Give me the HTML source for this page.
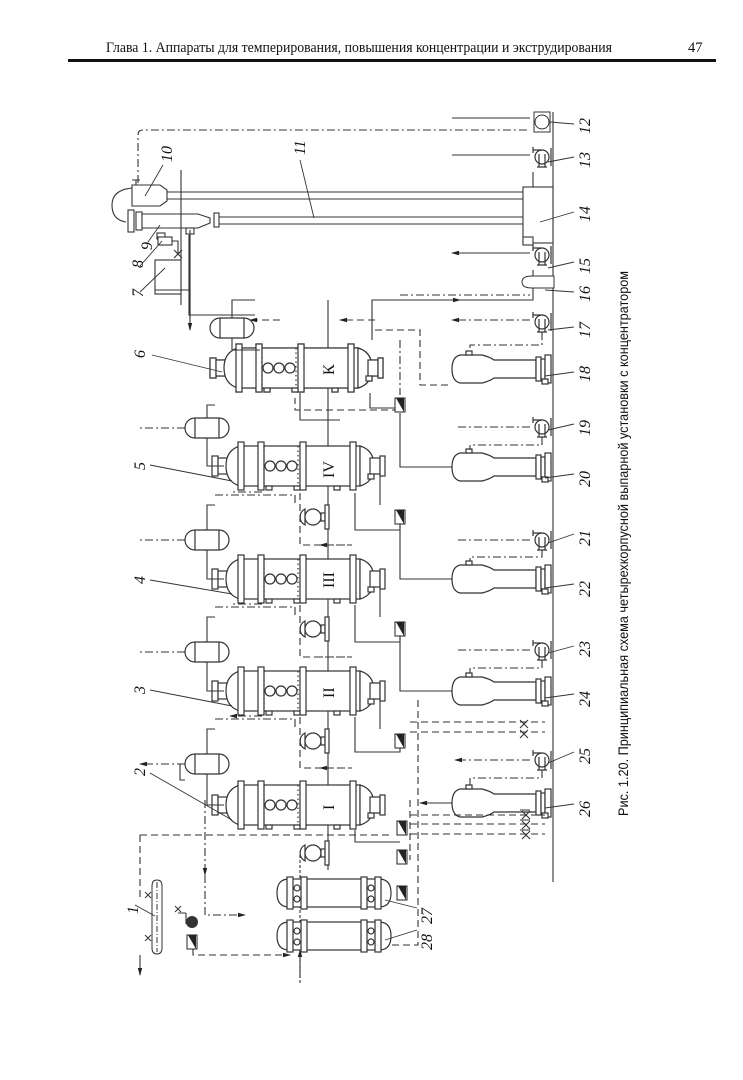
<!DOCTYPE html>
<html><head><meta charset="utf-8"><style>
html,body{margin:0;padding:0;background:#fff;}
svg{display:block}
</style></head><body>
<svg width="743" height="1080" viewBox="0 0 743 1080" xmlns="http://www.w3.org/2000/svg" font-family="Liberation Serif, serif">
<defs>
<marker id="ar" markerWidth="8" markerHeight="6" refX="7" refY="3" orient="auto" markerUnits="userSpaceOnUse"><path d="M0,0.8 L8,3 L0,5.2z" fill="#222"/></marker>
<g id="evap" fill="#fff" stroke="#333" stroke-width="1.2">
 <rect x="0" y="-10" width="6" height="20"/><rect x="6" y="-8" width="10" height="16"/>
 <path d="M28,-20 Q14,-16 14,0 Q14,16 28,20z"/>
 <rect x="28" y="-20" width="120" height="40"/>
 <path d="M148,-20 Q162,-16 162,0 Q162,16 148,20z"/>
 <rect x="158" y="-8" width="10" height="16"/><rect x="168" y="-10" width="5" height="20"/>
 <rect x="26" y="-24" width="6" height="48"/><rect x="46" y="-24" width="6" height="48"/>
 <rect x="88" y="-24" width="6" height="48"/><rect x="138" y="-24" width="6" height="48"/>
 <circle cx="58" cy="0" r="5"/><circle cx="69" cy="0" r="5"/><circle cx="80" cy="0" r="5"/>
 <path d="M52,-20 V20 M86,-20 V20" stroke-dasharray="1.5 3"/>
 <rect x="54" y="20" width="6" height="4"/><rect x="82" y="20" width="6" height="4"/><rect x="122" y="20" width="6" height="4"/><rect x="156" y="8" width="6" height="5"/>
</g>
<g id="drum" fill="#fff" stroke="#333" stroke-width="1.2">
 <path d="M-12,-10 H12 A10,10 0 0 1 12,10 H-12 A10,10 0 0 1 -12,-10z"/><path d="M-12,-10 V10 M12,-10 V10"/>
</g>
<g id="tank" fill="#fff" stroke="#333" stroke-width="1.2">
 <path d="M8,-14 H30 Q38,-12 42,-9 H84 V9 H42 Q38,12 30,14 H8 Q0,12 0,0 Q0,-12 8,-14z"/>
 <rect x="84" y="-12" width="5" height="24"/><rect x="89" y="-10" width="4" height="20"/><rect x="93" y="-14" width="6" height="28"/>
 <rect x="14" y="-18" width="6" height="4"/><rect x="90" y="10" width="6" height="5"/>
</g>
<g id="pump" fill="#fff" stroke="#333" stroke-width="1.2">
 <circle cx="0" cy="0" r="7"/><path d="M-9,-7 H0 M-9,-10 V-4 M-3,-3 V10 M3,-3 V10 M-5,10 H5"/><path d="M9,-9 V9"/>
</g>
<g id="spump" fill="#fff" stroke="#333" stroke-width="1.2">
 <path d="M-8,-8 A9,9 0 0 0 -8,8z"/><circle cx="0" cy="0" r="8"/><rect x="8" y="-4" width="4" height="8"/><rect x="12" y="-12" width="4" height="24"/>
</g>
<g id="heat" fill="#fff" stroke="#333" stroke-width="1.2">
 <path d="M12,-14 Q0,-14 0,0 Q0,14 12,14z"/><rect x="12" y="-14" width="90" height="28"/><path d="M102,-14 Q114,-14 114,0 Q114,14 102,14z"/>
 <rect x="10" y="-16" width="6" height="32"/><rect x="24" y="-16" width="6" height="32"/><rect x="84" y="-16" width="6" height="32"/><rect x="98" y="-16" width="6" height="32"/>
 <circle cx="20" cy="-5" r="3"/><circle cx="20" cy="6" r="3"/><circle cx="94" cy="-5" r="3"/><circle cx="94" cy="6" r="3"/>
</g>
<rect id="sq" x="-5" y="-7" width="10" height="14" fill="#fff" stroke="#222"/>
</defs>

<!-- header -->
<text x="106" y="52" font-size="14.5" textLength="506" lengthAdjust="spacingAndGlyphs" fill="#111">Глава 1. Аппараты для темперирования, повышения концентрации и экструдирования</text>
<text x="688" y="52" font-size="14.5" fill="#111">47</text>
<rect x="68" y="59" width="648" height="3" fill="#111"/>

<!-- caption -->
<text transform="translate(628,816) rotate(-90)" font-family="Liberation Sans, sans-serif" font-size="13.5" textLength="545" lengthAdjust="spacingAndGlyphs" fill="#111">Рис. 1.20. Принципиальная схема четырехкорпусной выпарной установки с концентратором</text>

<g stroke="#333" stroke-width="1.1" fill="none">
<!-- baseline -->
<path d="M553,112 V882"/>
<!-- condenser pipes -->
<path d="M165,192 H523 M165,199 H523 M218,217 H523 M218,224 H523"/>
<rect x="523" y="187" width="30" height="56" fill="#fff"/>
<rect x="523" y="237" width="10" height="8" fill="#fff"/>
<!-- 10 -->
<path d="M132,185 H160 L167,190 V201 L160,206 H132z" fill="#fff"/>
<path d="M132,188 Q112,190 112,205 Q112,220 126,222"/>
<path d="M136,185 V180 M140,180 H132"/>
<!-- 9 -->
<rect x="128" y="210" width="6" height="22" fill="#fff"/><rect x="136" y="212" width="6" height="18" fill="#fff"/>
<path d="M142,214 H198 L210,218 V223 L198,228 H142z" fill="#fff"/>
<rect x="214" y="213" width="5" height="14" fill="#fff"/>
<path d="M181,170 V305"/>
<rect x="157" y="233" width="8" height="6"/><rect x="186" y="228" width="8" height="6"/>
<!-- 8,7 -->
<rect x="158" y="237" width="14" height="8" fill="#fff"/>
<path d="M172,241 H178 V255 M174,250 L182,258 M182,250 L174,258"/>
<rect x="155" y="260" width="26" height="34" fill="#fff"/>
<path d="M155,290 H190 V330" marker-end="url(#ar)"/>
<path d="M190,230 V310 M190,310 V318"/>
<path d="M189,235 V315 H255"/>
<!-- top dash-dot -->
<path d="M138,183 V135 Q138,130 143,130 H530" stroke-dasharray="8 3 2 3"/>
<!-- right outputs arrows -->
<path d="M530,118 H452 M530,155 H452 M530,253 H452" marker-end="url(#ar)"/>
<path d="M530,320 H452" stroke-dasharray="8 3 2 3" marker-end="url(#ar)"/>
<path d="M536,132 V118 M533,172 V187"/>
<!-- pump 16 -->
<path d="M533,270 V300 H372 V340"/>
<path d="M372,300 H460" marker-end="url(#ar)"/>
</g>
<rect x="534" y="112" width="16" height="20" fill="#fff" stroke="#333"/><circle cx="542" cy="122" r="7" fill="#fff" stroke="#333"/>
<use href="#pump" x="542" y="157"/>
<use href="#pump" x="542" y="255"/>
<path d="M530,282 H552 V270 H530 Q520,270 520,276 Q520,282 530,282" fill="#fff" stroke="#333" transform="translate(2,6)"/>
<use href="#pump" x="542" y="322"/>

<!-- middle line -->
<path d="M328,300 V870" stroke="#333" stroke-width="1.1"/>

<!-- evaporators -->
<use href="#evap" x="210" y="368"/>
<use href="#evap" x="212" y="466"/>
<use href="#evap" x="212" y="579"/>
<use href="#evap" x="212" y="691"/>
<use href="#evap" x="212" y="805"/>
<rect x="225" y="345" width="20" height="46" fill="#fff"/>
<use href="#evap" x="210" y="368" transform="translate(0,0)"/>

<g font-size="16" fill="#111" font-family="Liberation Serif, serif">
<text transform="translate(334,375) rotate(-90)">К</text>
<text transform="translate(334,478) rotate(-90)">IV</text>
<text transform="translate(334,588) rotate(-90)">III</text>
<text transform="translate(334,698) rotate(-90)">II</text>
<text transform="translate(334,810) rotate(-90)">I</text>
</g>

<!-- separators drums -->
<use href="#drum" x="232" y="328"/>
<use href="#drum" x="207" y="428"/>
<use href="#drum" x="207" y="540"/>
<use href="#drum" x="207" y="652"/>
<use href="#drum" x="207" y="764"/>

<!-- small pumps -->
<use href="#spump" x="313" y="517"/>
<use href="#spump" x="313" y="629"/>
<use href="#spump" x="313" y="741"/>
<use href="#spump" x="313" y="853"/>

<!-- tanks -->
<use href="#tank" x="452" y="369"/>
<use href="#tank" x="452" y="467"/>
<use href="#tank" x="452" y="579"/>
<use href="#tank" x="452" y="691"/>
<use href="#tank" x="452" y="803"/>

<!-- pumps -->
<use href="#pump" x="542" y="427"/>
<use href="#pump" x="542" y="540"/>
<use href="#pump" x="542" y="650"/>
<use href="#pump" x="542" y="760"/>

<!-- connectors per stage -->
<g stroke="#333" stroke-width="1.1" fill="none">
<!-- dash-dot outputs from pumps -->
<path d="M530,427 H455 M530,540 H455 M530,650 H455 M530,760 H455" stroke-dasharray="8 3 2 3" marker-end="url(#ar)"/>
<path d="M542,437 V445 H470 V450 M542,550 V557 H470 V561 M542,660 V668 H470 V673 M542,770 V778 H470 V785 M542,332 V345 H470 V351" stroke-dasharray="8 3 2 3"/>
<!-- tank to evaporator dashed -->
<path d="M452,467 H400 V420 M452,579 H400 V532 M452,691 H400 V644 M452,803 H420" marker-end="url(#ar)"/>
<path d="M400,420 V410 H295 V398 M400,532 V525 M400,644 V635" stroke-dasharray="7 4"/>
<!-- drum dash-dot left -->
<path d="M185,428 H140 M185,540 H140 M185,652 H140 M185,764 H140" stroke-dasharray="8 3 2 3" marker-end="url(#ar)"/>
<path d="M207,438 V466 H224 M207,550 V579 H224 M207,662 V691 H224 M207,774 V805 H224"/>
<path d="M232,338 V350 H260 M232,318 V300 H255"/>
<path d="M207,418 V405 H215 M207,530 V505 H215 M207,642 V617 H215 M207,754 V729 H215" />
<path d="M215,495 H295 V505 M215,607 H295 V617 M215,719 H295 V729" stroke-dasharray="8 3 2 3"/>
<path d="M262,492 H230 M262,604 H230 M262,716 H230" stroke-dasharray="8 3 2 3" marker-end="url(#ar)"/>
<path d="M180,764 V780 H185" />
<!-- condensate lines to squares -->
<path d="M355,493 V530 H400 V522 M355,605 V642 H400 V634 M355,717 V752 H400 V746 M355,830 V842 H400"/>
<path d="M300,493 V545 H352 M300,605 V657 H352 M300,717 V768 H352" stroke-dasharray="7 4"/>
<path d="M380,475 V505 M380,587 V617 M380,699 V729" />
<path d="M345,545 H320" stroke-dasharray="7 4" marker-end="url(#ar)"/>
<path d="M345,657 H320 M345,768 H320" stroke-dasharray="7 4" marker-end="url(#ar)"/>
<path d="M370,393 V408 H400 M300,393 V420 H340" />
<path d="M400,340 V395 M400,295 H530" stroke-dasharray="8 3 2 3"/>
<path d="M375,330 H420 V385 H452" stroke-dasharray="7 4"/>
<path d="M280,320 H250" stroke-dasharray="7 4" marker-end="url(#ar)"/>
<path d="M375,320 H340" stroke-dasharray="7 4" marker-end="url(#ar)"/>
<!-- bottom right dashed multiple lines -->
<path d="M410,815 H545 M410,824 H545 M410,834 H545" stroke-dasharray="7 4"/>
<path d="M520,810 H530 M520,820 H530 M520,830 H530"/>
<path d="M522,811 L530,819 M530,811 L522,819 M522,821 L530,829 M530,821 L522,829 M522,831 L530,839 M530,831 L522,839"/>
<path d="M520,720 L528,728 M528,720 L520,728 M520,730 L528,738 M528,730 L520,738"/>
<path d="M410,722 H545 M410,732 H545" stroke-dasharray="7 4"/>
<path d="M410,800 V860 M418,700 V945 H360" stroke-dasharray="7 4"/>
<!-- left dashed loop -->
<path d="M140,835 H390 M140,835 V897" stroke-dasharray="7 4"/>
<path d="M205,800 V875" stroke-dasharray="8 3 2 3" marker-end="url(#ar)"/>
<path d="M205,875 V915 H245" stroke-dasharray="8 3 2 3" marker-end="url(#ar)"/>
<path d="M193,938 V955 H290" stroke-dasharray="7 4" marker-end="url(#ar)"/>
<path d="M300,950 V978" marker-end="url(#ar)" transform="rotate(180,300,964)"/>
<path d="M300,855 V985" stroke-dasharray="3 2"/>
<path d="M140,955 V975" marker-end="url(#ar)"/>
<path d="M178,913 H186 M186,913 V924"/>
</g>

<!-- heaters -->
<use href="#heat" x="277" y="893"/>
<use href="#heat" x="277" y="936"/>
<!-- vessel 1 -->
<path d="M152,886 Q152,880 157,880 Q162,880 162,886 V948 Q162,954 157,954 Q152,954 152,948z" fill="#fff" stroke="#333"/>
<path d="M157,882 V952" stroke="#333" stroke-dasharray="6 2 1 2"/>
<g stroke="#333" fill="none">
<path d="M145,892 L151,898 M151,892 L145,898 M145,935 L151,941 M151,935 L145,941 M175,906 L181,912 M181,906 L175,912"/>
</g>
<circle cx="192" cy="922" r="6" fill="#333"/>

<!-- squares -->
<use href="#sq" x="400" y="405"/>
<use href="#sq" x="400" y="517"/>
<use href="#sq" x="400" y="629"/>
<use href="#sq" x="400" y="741"/>
<use href="#sq" x="402" y="828"/>
<use href="#sq" x="402" y="857"/>
<use href="#sq" x="402" y="893"/>
<use href="#sq" x="192" y="942"/>
<g fill="#222"><path d="M396,398 L404,398 L404,412z M396,510 L404,510 L404,524z M396,622 L404,622 L404,636z M396,734 L404,734 L404,748z M398,821 L406,821 L406,835z M398,850 L406,850 L406,864z M398,886 L406,886 L406,900z M188,935 L196,935 L196,949z"/></g>

<!-- leader lines -->
<g stroke="#333" stroke-width="0.9" fill="none">
<path d="M574,124 L550,122 M574,157 L548,162 M574,212 L540,222 M574,262 L548,268 M574,292 L545,290 M574,327 L548,330 M574,372 L545,376 M574,424 L548,430 M574,474 L545,478 M574,534 L548,543 M574,584 L545,588 M574,646 L548,653 M574,694 L545,698 M574,752 L548,763 M574,804 L545,808"/>
<path d="M163,165 L145,196 M300,160 L314,218 M148,242 L160,225 M140,266 L162,241 M140,292 L165,268 M152,355 L222,372 M150,465 L232,481 M150,580 L232,594 M150,690 L232,706 M150,773 L232,820 M135,905 L155,916 M417,908 L385,900 M417,930 L385,940"/>
</g>

<!-- labels -->
<g font-size="16" font-style="italic" fill="#111">
<text transform="translate(590,134) rotate(-90)">12</text>
<text transform="translate(590,168) rotate(-90)">13</text>
<text transform="translate(590,222) rotate(-90)">14</text>
<text transform="translate(590,274) rotate(-90)">15</text>
<text transform="translate(590,302) rotate(-90)">16</text>
<text transform="translate(590,338) rotate(-90)">17</text>
<text transform="translate(590,382) rotate(-90)">18</text>
<text transform="translate(590,436) rotate(-90)">19</text>
<text transform="translate(590,487) rotate(-90)">20</text>
<text transform="translate(590,546) rotate(-90)">21</text>
<text transform="translate(590,597) rotate(-90)">22</text>
<text transform="translate(590,657) rotate(-90)">23</text>
<text transform="translate(590,707) rotate(-90)">24</text>
<text transform="translate(590,764) rotate(-90)">25</text>
<text transform="translate(590,817) rotate(-90)">26</text>
<text transform="translate(172,162) rotate(-90)">10</text>
<text transform="translate(305,155) rotate(-90)">11</text>
<text transform="translate(152,250) rotate(-90)">9</text>
<text transform="translate(143,268) rotate(-90)">8</text>
<text transform="translate(143,297) rotate(-90)">7</text>
<text transform="translate(145,358) rotate(-90)">6</text>
<text transform="translate(145,470) rotate(-90)">5</text>
<text transform="translate(145,584) rotate(-90)">4</text>
<text transform="translate(145,694) rotate(-90)">3</text>
<text transform="translate(145,776) rotate(-90)">2</text>
<text transform="translate(138,914) rotate(-90)">1</text>
<text transform="translate(432,924) rotate(-90)">27</text>
<text transform="translate(432,950) rotate(-90)">28</text>
</g>
</svg>
</body></html>
